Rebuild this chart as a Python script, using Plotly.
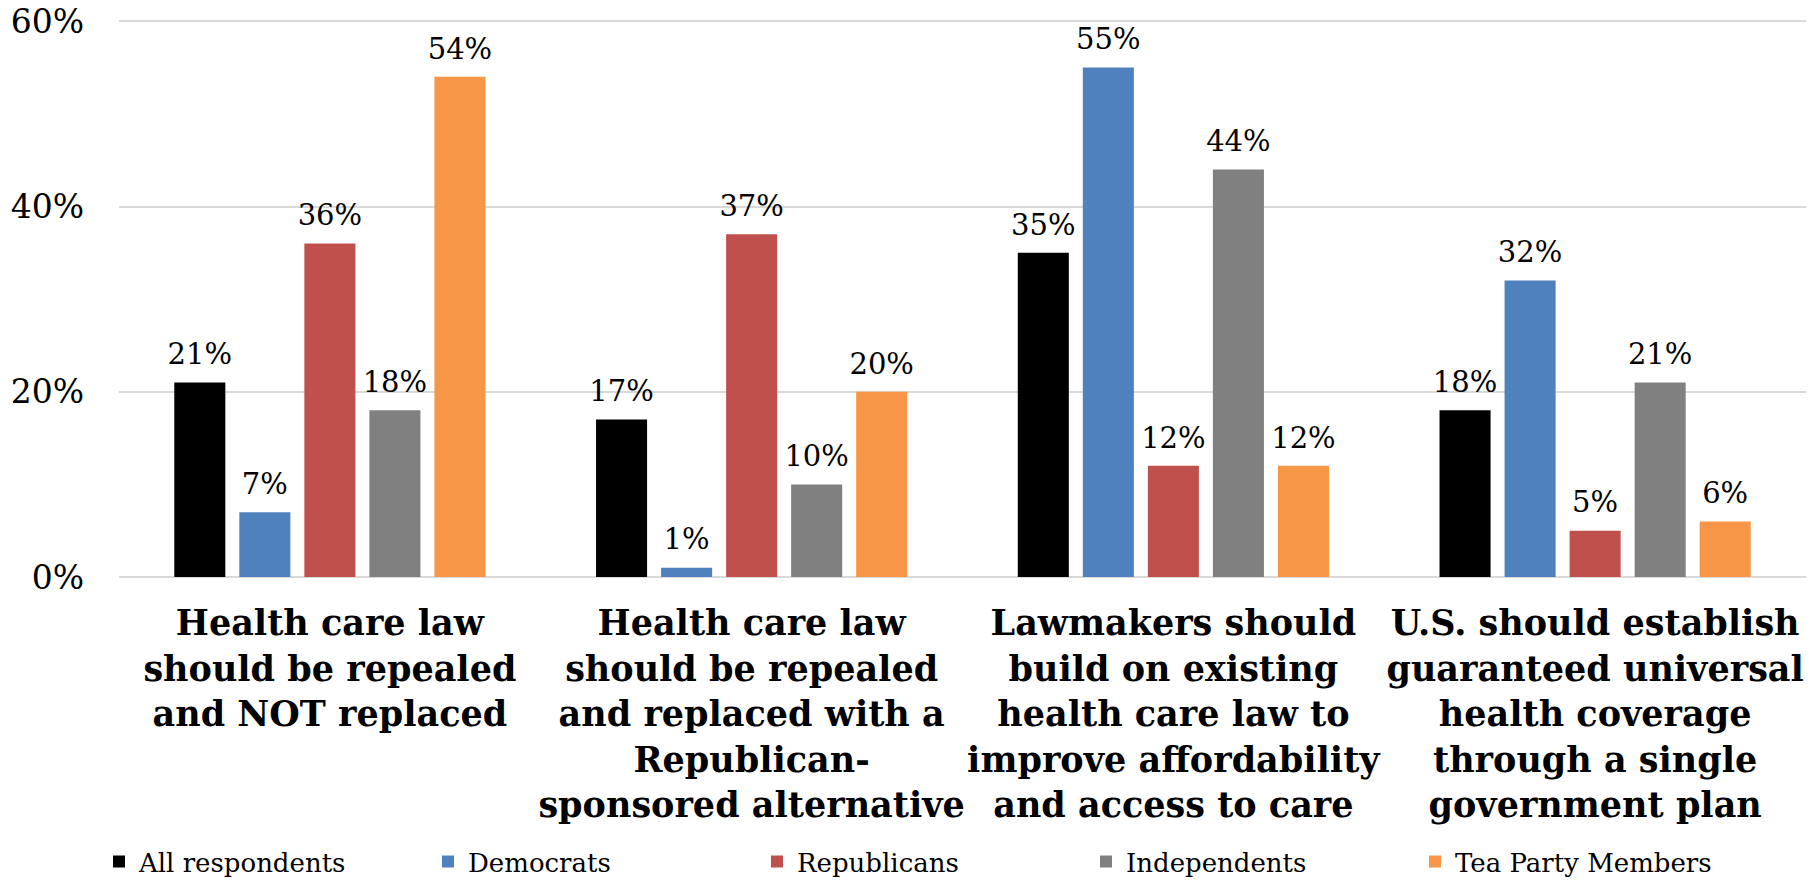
import plotly.graph_objects as go

categories = [
    "Health care law<br>should be repealed<br>and NOT replaced",
    "Health care law<br>should be repealed<br>and replaced with a<br>Republican-<br>sponsored alternative",
    "Lawmakers should<br>build on existing<br>health care law to<br>improve affordability<br>and access to care",
    "U.S. should establish<br>guaranteed universal<br>health coverage<br>through a single<br>government plan",
]
series_names = ["All respondents", "Democrats", "Republicans", "Independents", "Tea Party Members"]
all_respondents = [21, 17, 35, 18]
democrats = [7, 1, 55, 32]
republicans = [36, 37, 12, 5]
independents = [18, 10, 44, 21]
tea_party = [54, 20, 12, 6]
colors = ["#000000", "#4F81BD", "#C0504D", "#808080", "#F79646"]
y_ticks = [0, 20, 40, 60]
y_tick_labels = ["0%", "20%", "40%", "60%"]

FONT = "DejaVu Serif"
BARGAP = 0.229
fig = go.Figure()
all_vals = [all_respondents, democrats, republicans, independents, tea_party]
for i, (name, vals, col) in enumerate(zip(series_names, all_vals, colors)):
    fig.add_trace(go.Bar(
        x=categories, y=vals, name=name,
        marker=dict(color=col, line=dict(width=0)),
        offsetgroup=str(i), alignmentgroup="a",
    ))
for i, (name, vals) in enumerate(zip(series_names, all_vals)):
    fig.add_trace(go.Scatter(
        x=categories, y=vals, mode="text+markers", showlegend=False,
        marker=dict(size=16, opacity=0, color="white"),
        text=[f"{v}%" for v in vals], textposition="top center",
        textfont=dict(family=FONT, size=29, color="#000000"),
        offsetgroup=str(i), alignmentgroup="a",
        cliponaxis=False, hoverinfo="skip",
    ))

fig.update_layout(
    width=1802, height=872,
    margin=dict(l=111, r=4, t=4, b=303, autoexpand=False),
    paper_bgcolor="white", plot_bgcolor="white",
    barmode="group", bargap=BARGAP, bargroupgap=0.215,
    scattermode="group", scattergap=BARGAP,
    font=dict(family=FONT, color="#000000"),
    showlegend=True,
    legend=dict(
        orientation="h", xref="container", yref="container",
        x=0.0505, y=0.021, xanchor="left", yanchor="middle",
        font=dict(family=FONT, size=26, color="#000000"),
        entrywidth=284, entrywidthmode="pixels",
        itemwidth=30, traceorder="normal",
    ),
)
fig.update_xaxes(
    showgrid=False, showline=False, ticks="", tickangle=0, automargin=False,
    tickfont=dict(family=FONT, size=35, color="#000000", weight="bold"),
    ticklabelstandoff=22,
)
fig.update_yaxes(
    range=[0, 61], tickvals=y_ticks, ticktext=y_tick_labels, automargin=False,
    showgrid=True, gridcolor="#D9D9D9", gridwidth=2,
    zeroline=True, zerolinecolor="#D9D9D9", zerolinewidth=2,
    showline=False, ticks="", ticklabeloverflow="allow",
    tickfont=dict(family=FONT, size=33, color="#000000"),
    ticklabelstandoff=34,
)
fig.write_html("out.html")
